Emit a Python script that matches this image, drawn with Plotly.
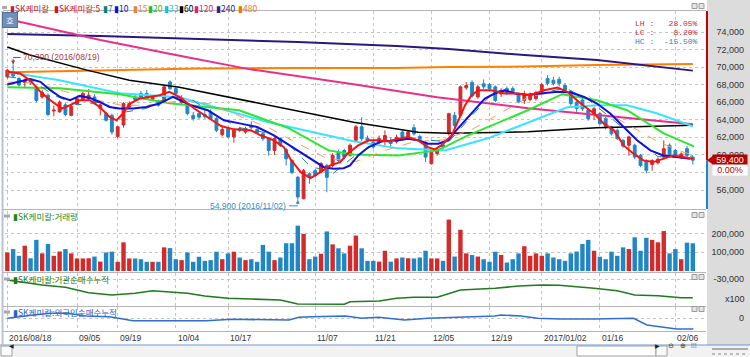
import plotly.graph_objects as go

W, H = 750, 357

# ---------------- data ----------------
opens = [68900, 69500, 68700, 68250, 68500, 67750, 66600, 66800, 65000, 64900,
         65700, 64500, 65800, 66300, 66400, 66600, 65300, 64700, 64500, 62100,
         63400, 65450, 66600, 67000, 67000, 66300, 66100, 66050, 68300, 67550,
         66000, 65650, 64500, 64700, 64600, 64900, 64150, 62300, 63000, 62050,
         63000, 62600, 63300, 62900, 62400, 61850, 60500, 61850, 60600, 59350,
         57450, 55000, 57850, 58200, 58050, 58800, 58800, 60300, 60500, 59950,
         61650, 63200, 61900, 61450, 61400, 61650, 61500, 61500, 62600, 61850,
         63100, 62100, 61400, 59000, 60150, 61150, 62400, 64500, 64500, 67650,
         68250, 66600, 68100, 68000, 67750, 66950, 67550, 67550, 67000, 66200,
         66300, 66400, 67200, 68700, 68500, 68600, 67900, 67200, 66000, 66250,
         65100, 64700, 64700, 64150, 63200, 62800, 61650, 61100, 61100, 59950,
         59350, 58900, 59100, 59750, 61100, 60500, 59750, 60700, 59750]
highs = [69800, 70300, 68900, 68700, 68700, 67900, 67400, 67000, 65600, 66200,
         65900, 65700, 66600, 67200, 67500, 66900, 65900, 64900, 64700, 63300,
         66000, 66100, 67000, 67300, 67400, 66800, 66300, 67900, 68500, 67700,
         66800, 65900, 64900, 65000, 65100, 65200, 64300, 63300, 63200, 63000,
         63200, 63200, 63800, 63100, 62600, 62000, 62000, 62000, 60800, 59500,
         57600, 58400, 58000, 58400, 59200, 59000, 60200, 60600, 60700, 61300,
         63400, 64300, 62200, 61700, 62200, 62800, 62000, 62300, 62800, 62800,
         63500, 62300, 61600, 60500, 60800, 61400, 64800, 64900, 67900, 68300,
         68500, 68000, 68600, 68200, 67900, 67600, 67800, 67800, 67100, 67300,
         67100, 67300, 68200, 69100, 68900, 68900, 68200, 67400, 66400, 66500,
         65300, 65500, 64900, 64300, 63300, 63000, 61800, 62200, 61300, 60100,
         59500, 59500, 59700, 61650, 61300, 60700, 60300, 61000, 59900]
lows = [68700, 68800, 67800, 67700, 68000, 66000, 66400, 64400, 64400, 64800,
        64400, 64400, 65700, 66200, 66200, 65700, 64500, 63800, 62300, 61900,
        63100, 65300, 66100, 66400, 66300, 66100, 65500, 65900, 67400, 66800,
        65800, 64500, 63900, 64100, 64100, 64000, 62600, 62100, 61900, 61400,
        62600, 62400, 62900, 62400, 61600, 59900, 60000, 60900, 58800, 57800,
        54900, 54950, 56700, 57400, 57900, 55750, 58600, 59200, 59500, 59800,
        61500, 61600, 61400, 60700, 61200, 61100, 61000, 61300, 61800, 61700,
        62200, 61700, 59200, 58900, 59900, 60600, 62200, 63100, 64300, 67400,
        66500, 66400, 67500, 67400, 66000, 66600, 66800, 67000, 65900, 65800,
        66100, 66200, 67000, 67900, 67900, 67800, 67200, 65600, 64900, 65000,
        63900, 64000, 63400, 62900, 62200, 61700, 60800, 59900, 59500, 58600,
        57900, 58200, 58900, 59500, 59700, 59700, 59500, 59700, 58900]
closes = [69650, 69000, 67950, 68500, 68200, 66200, 67100, 64600, 65100, 66000,
          64600, 65500, 66400, 67000, 66800, 65850, 65700, 63950, 62600, 63200,
          65850, 65850, 66300, 66600, 66400, 66600, 65650, 67750, 67550, 67000,
          66500, 64700, 64150, 64300, 64350, 64150, 62800, 62900, 62050, 62800,
          62800, 63000, 63100, 62550, 61850, 60500, 61850, 61100, 59550, 58000,
          55200, 58200, 57450, 57650, 59000, 57450, 59950, 59350, 59750, 61100,
          63200, 61850, 61600, 60900, 61850, 62200, 61300, 62000, 62050, 62600,
          62400, 61850, 59750, 60300, 60500, 60900, 64700, 63350, 67750, 67900,
          66700, 67750, 67750, 67550, 66200, 67350, 67000, 67200, 66050, 66800,
          66800, 67100, 68000, 68150, 68150, 68150, 67400, 65850, 65300, 65250,
          64150, 65250, 63550, 63200, 62400, 61850, 61000, 62050, 59750, 58800,
          58250, 59350, 59500, 60700, 59950, 59950, 60100, 59950, 59400]
volumes = [99000, 117000, 81000, 135000, 68000, 166000, 94000, 144000, 81000, 104000,
           117000, 94000, 67000, 67000, 68000, 77000, 50000, 99000, 103000, 49000,
           153000, 67000, 67000, 63000, 49000, 49000, 49000, 126000, 122000, 63000,
           58000, 99000, 49000, 76000, 54000, 58000, 103000, 63000, 94000, 103000,
           72000, 58000, 63000, 49000, 139000, 103000, 58000, 72000, 148000, 148000,
           242000, 198000, 63000, 77000, 92000, 211000, 142000, 121000, 94000, 135000,
           189000, 121000, 54000, 54000, 50000, 108000, 50000, 67000, 72000, 68000,
           67000, 72000, 108000, 67000, 67000, 54000, 274000, 77000, 220000, 94000,
           85000, 77000, 63000, 49000, 103000, 86000, 45000, 63000, 94000, 132000,
           81000, 94000, 81000, 94000, 72000, 63000, 54000, 94000, 104000, 144000,
           166000, 108000, 76000, 63000, 103000, 81000, 126000, 117000, 180000, 108000,
           177000, 166000, 153000, 213000, 94000, 117000, 63000, 151000, 148000]

x_tick_idx = [0, 12, 19, 29, 38, 53, 63, 73, 83, 92, 102, 115]
x_tick_lbl = ["2016/08/18", "09/05", "09/19", "10/04", "10/17", "11/07",
              "11/21", "12/05", "12/19", "2017/01/02", "01/16", "02/06"]

ma5_x = [0, 2.2, 3.9, 5.7, 7.4, 9.4, 10.8, 12.5, 14.2, 15.9, 17.6, 18.8, 19.9, 21.1,
         22.8, 24.5, 26.2, 27.9, 29.6, 32.2, 34.5, 36.8, 39.0, 41.9, 43.6, 45.9, 47.6,
         48.7, 50.5, 52.2, 53.9, 55.6, 57.3, 58.5, 60.4, 62.2, 63.9, 65.6, 67.3, 69.0,
         70.7, 72.4, 73.6, 74.7, 76.5, 77.6, 78.8, 79.9, 81.1, 83.3, 85.6, 87.8, 90.1,
         92.4, 94.7, 96.4, 98.7, 101.0, 102.7, 104.4, 106.1, 107.8, 109.5, 111.2,
         112.9, 114.7, 116.3, 118.0]
ma5_y = [69460, 69280, 68510, 67180, 66230, 65280, 65660, 66230, 66230, 65460, 64320,
         63940, 64710, 65850, 66420, 66600, 66800, 67180, 66600, 65280, 64320, 63290,
         62910, 62800, 62230, 61660, 60890, 59560, 58030, 57350, 58030, 58800, 59180,
         60100, 61080, 61660, 61660, 61540, 61850, 62030, 61660, 60890, 60630, 61080,
         62230, 63940, 65660, 66800, 67370, 67370, 66990, 66990, 66800, 67370, 67680,
         67180, 65850, 64710, 63560, 62800, 61080, 60140, 59370, 59180, 59560, 59940,
         59750, 59560]
ma7_x = [0, 4, 8, 12, 16, 20, 24, 28, 32, 36, 40, 44, 48, 52, 56, 60, 64, 68, 72, 76,
         80, 84, 88, 92, 96, 100, 104, 108, 112, 116, 118]
ma7_y = [68900, 68600, 66800, 65700, 66000, 64850, 65300, 66700, 66200, 64400, 63100,
         62600, 61500, 58800, 57850, 60000, 61450, 61700, 61700, 61500, 64500, 67350,
         66950, 67000, 67650, 66300, 64150, 62000, 59800, 59700, 59900]
ma10_x = [0, 2.2, 3.9, 5.7, 7.4, 9.1, 10.8, 12.5, 14.2, 15.9, 17.6, 19.3, 21.6, 23.9,
          26.2, 28.5, 31.6, 34.5, 37.3, 40.2, 43.0, 45.9, 48.2, 50.5, 52.7, 54.5, 56.2,
          57.9, 59.0, 60.4, 62.2, 64.4, 67.3, 69.0, 70.7, 72.4, 74.2, 75.9, 77.0, 78.8,
          80.5, 82.2, 83.9, 85.6, 87.4, 89.5, 91.8, 94.7, 97.0, 99.3, 101.5, 103.8,
          106.1, 108.4, 110.7, 112.9, 115.2, 117.5]
ma10_y = [68020, 68320, 68630, 68320, 67370, 66600, 66230, 66720, 66490, 66030, 65460,
          65280, 65280, 65460, 65850, 66600, 65660, 65090, 63940, 63560, 63180, 62230,
          61280, 60320, 59370, 58600, 58420, 58490, 58800, 59940, 60890, 61540, 61660,
          61850, 61660, 61280, 61280, 61660, 62600, 63940, 65280, 66420, 66990, 67370,
          66990, 66850, 66990, 67180, 67110, 66600, 65850, 64710, 63180, 61660, 60510,
          59940, 59750, 59560]
ma15_x = [0, 5, 10, 15, 20, 25, 30, 35, 40, 45, 50, 55, 60, 65, 70, 75, 80, 85, 90, 95,
          100, 104, 108, 112, 116, 118]
ma15_y = [68300, 68200, 67200, 66300, 65600, 65700, 66200, 65800, 64400, 63100, 61300,
          59600, 59250, 60500, 61500, 61700, 62900, 64800, 66700, 67200, 66750, 64500,
          63000, 61500, 60400, 60000]
ma20_x = [0, 9, 19.3, 27.9, 39.9, 48.5, 55.3, 59.6, 67.3, 74.1, 79.3, 89.6, 95.5,
          101.5, 106.7, 110.1, 113.0, 118.2]
ma20_y = [67714, 67600, 66914, 65886, 65086, 63028, 60514, 60057, 59943, 60514, 62228,
          65086, 66914, 66228, 65085, 63714, 62457, 60970]
ma33_x = [0, 9, 19.3, 29.6, 45, 59.6, 67.3, 75.3, 82.7, 89.6, 96.4, 101.5, 106.7,
          111.8, 118]
ma33_y = [69428, 68514, 67028, 66571, 63714, 61543, 60743, 60514, 61886, 63714, 65428,
          65657, 65657, 64743, 63257]
ma60_x = [0, 3.9, 13.7, 21, 29.6, 43.3, 59.6, 70.7, 75.9, 89.6, 101.5, 118]
ma60_y = [72286, 71371, 69657, 68514, 67714, 65885, 63714, 62571, 62457, 62627, 63100,
          63371]
ma120_x = [0, 16, 29, 41.6, 59.6, 74, 89.6, 101.5, 118]
ma120_y = [75486, 73086, 71371, 69771, 68057, 66571, 65313, 64514, 63486]
ma240_x = [0, 16, 33, 50, 67, 76, 89, 101.5, 118]
ma240_y = [73771, 73543, 73200, 72857, 72400, 72057, 71371, 70800, 69600]
ma480_x = [0, 16, 33, 50, 67, 76, 89, 101.5, 118]
ma480_y = [69428, 69657, 69828, 69886, 69886, 70000, 70057, 70228, 70342]

inst_x = [0, 2, 6, 10, 14, 18, 22, 25, 27, 31, 34, 38, 42, 44, 47, 50, 58, 59, 64,
          67, 70, 74, 76, 78, 84, 88, 92, 95, 101, 105, 108, 112, 116, 118]
inst_y = [-30400, -31080, -32400, -33320, -35480, -36400, -35720, -34680, -35080,
          -35720, -36800, -37720, -38000, -38120, -38400, -40000, -40120, -39080,
          -38800, -37720, -37320, -37320, -35720, -34400, -33720, -32800, -32400,
          -32520, -33720, -34680, -36400, -36680, -37480, -37480]
frgn_x = [0, 2, 4.5, 7.4, 10.2, 13.6, 17.6, 19.9, 21.6, 27.3, 30.8, 34.2, 38.7, 43.8,
          48.5, 50.2, 52.4, 58.2, 61, 63.9, 68.4, 72.4, 78.1, 83.9, 85, 88.4, 91.3,
          95.2, 101, 107.8, 110.1, 112.3, 115.2, 118.1]
frgn_y = [-300, 1300, 3000, 4700, 4700, 2000, 1300, -1000, -2700, -2700, -3000, -2700,
          -1300, -1300, -2000, 700, 1300, 2000, -300, 700, -2000, -300, 700, 2000, 3000,
          2000, -300, -1000, -1000, -300, -7000, -8700, -11000, -11000]

price_ticks = [56000, 58000, 60000, 62000, 64000, 66000, 68000, 70000, 72000, 74000]
price_hidden = [58000]          # label covered by the change-percent box in the reference
vol_ticks = [0, 100000, 200000]
inst_ticks = [-30000]
frgn_ticks = [0]
high_date = "2016/08/19"
low_date = "2016/11/02"
change_pct = 0.00

# ---------------- helpers ----------------
def X(p):
    return p / W


def Y(p):
    return 1 - p / H


n = len(closes)
idx = list(range(n))
RED = "#d42a2a"
BLUE = "#1f87c6"
GRID = "#c4c4c4"
NUMFONT = "Liberation Sans"
KRFONT = "Noto Sans CJK KR"
NBSP = "\u00a0"

fig = go.Figure()

# volume
vol_colors = [RED if c >= o else BLUE for o, c in zip(opens, closes)]
fig.add_trace(go.Bar(x=idx, y=volumes, marker=dict(color=vol_colors, line=dict(width=0)),
                     width=0.76, yaxis="y2", hoverinfo="skip"))

# candles
fig.add_trace(go.Candlestick(
    x=idx, open=opens, high=highs, low=lows, close=closes,
    increasing=dict(line=dict(color=RED, width=1), fillcolor=RED),
    decreasing=dict(line=dict(color=BLUE, width=1), fillcolor=BLUE),
    whiskerwidth=0, yaxis="y", hoverinfo="skip"))

ma_specs = [
    (ma480_x, ma480_y, "#ff8000", 2, "solid"),
    (ma240_x, ma240_y, "#2e1680", 2, "solid"),
    (ma120_x, ma120_y, "#e8308a", 2, "solid"),
    (ma60_x, ma60_y, "#000000", 1.5, "solid"),
    (ma33_x, ma33_y, "#38e4ff", 2, "solid"),
    (ma20_x, ma20_y, "#2ee62e", 2, "solid"),
    (ma15_x, ma15_y, "#ff9a60", 1, "dash"),
    (ma7_x, ma7_y, "#1a8a8a", 1, "dash"),
    (ma10_x, ma10_y, "#1010e0", 2, "solid"),
    (ma5_x, ma5_y, "#ff1010", 2, "solid"),
]
for xs, ys, col, wd, dash in ma_specs:
    fig.add_trace(go.Scatter(x=xs, y=ys, mode="lines", yaxis="y",
                             line=dict(color=col, width=wd, dash=dash), hoverinfo="skip"))

fig.add_trace(go.Scatter(x=inst_x, y=inst_y, mode="lines", yaxis="y3",
                         line=dict(color="#1e7b1e", width=1.6), hoverinfo="skip"))
fig.add_trace(go.Scatter(x=frgn_x, y=frgn_y, mode="lines", yaxis="y4",
                         line=dict(color="#2f6fcf", width=1.6), hoverinfo="skip"))

# price axis scale: 74,000 at y=32px, 56,000 at y=190px
k = 18000 / 158.0
p_top = 74000 + (32 - 11) * k
p_bot = 56000 - (209 - 190) * k


def yax(top_px, bot_px, rng, ticks, hidden=()):
    return dict(domain=[Y(bot_px), Y(top_px)], range=rng, tickvals=ticks,
                ticktext=["" if v in hidden else f"{v:,}" for v in ticks], side="right",
                anchor="free", position=X(747), ticklabelposition="inside", showgrid=True,
                gridcolor=GRID, griddash="dot", gridwidth=1, zeroline=False,
                showline=False, ticks="",
                tickfont=dict(family=NUMFONT, size=9, color="#333"), fixedrange=True)


layout = dict(
    width=W, height=H, margin=dict(l=0, r=0, t=0, b=0),
    paper_bgcolor="white", plot_bgcolor="white", showlegend=False,
    font=dict(family=KRFONT, size=9, color="#333"),
    xaxis=dict(domain=[X(5), X(705)], range=[-0.4, 120.1], tickvals=x_tick_idx,
               showticklabels=False, showgrid=True, gridcolor=GRID, griddash="dot",
               gridwidth=1, zeroline=False, showline=False, ticks="", anchor="y4",
               rangeslider=dict(visible=False), fixedrange=True),
    yaxis=yax(11, 209, [p_bot, p_top], price_ticks, price_hidden),
    yaxis2=yax(211, 271, [0, 320000], vol_ticks),
    yaxis3=yax(273, 306, [-40800, -27600], inst_ticks),
    yaxis4=yax(307, 331, [-13000, 11000], frgn_ticks),
)
fig.update_layout(**layout)

shapes = []
ann = []

# right gray strip and frame pieces
shapes.append(dict(type="rect", xref="paper", yref="paper", x0=X(707), x1=1, y0=Y(345), y1=1,
                   fillcolor="#dcdcdc", line=dict(width=0), layer="below"))
shapes.append(dict(type="rect", xref="paper", yref="paper", x0=0, x1=1, y0=0, y1=Y(345),
                   fillcolor="#f2f2f2", line=dict(width=0), layer="below"))
shapes.append(dict(type="line", xref="paper", yref="paper", x0=0, x1=1, y0=Y(345), y1=Y(345),
                   line=dict(color="#6a9ad0", width=1)))
shapes.append(dict(type="line", xref="paper", yref="paper", x0=X(2.5), x1=X(2.5), y0=Y(345), y1=Y(11),
                   line=dict(color="#b8c4d2", width=2)))
for yp in [10.5, 209.5, 272.5, 306.5, 331.5]:
    shapes.append(dict(type="line", xref="paper", yref="paper", x0=X(3), x1=X(706),
                       y0=Y(yp), y1=Y(yp), line=dict(color="#b5b5b5", width=1)))

# current price marker line on the right edge
last = closes[-1]
shapes.append(dict(type="line", xref="paper", yref="y", x0=X(707), x1=X(707), y0=last, y1=p_top,
                   line=dict(color="#c00000", width=2)))
shapes.append(dict(type="line", xref="paper", yref="y", x0=X(707), x1=X(707), y0=p_bot, y1=last,
                   line=dict(color="#1f87c6", width=2)))
shapes.append(dict(type="path", xref="paper", yref="y",
                   path=f"M {X(707)},{last} L {X(713)},{last + 500} L {X(713)},{last - 500} Z",
                   fillcolor="#c00000", line=dict(width=0)))
ann.append(dict(xref="paper", yref="y", x=X(748), y=last, xanchor="right", yanchor="middle",
                text=f"{last:,}", showarrow=False, bgcolor="#b40000", borderpad=0,
                font=dict(family=NUMFONT, size=9, color="white"), width=34, height=10))
ann.append(dict(xref="paper", yref="y", x=X(748), y=last, yshift=-10, xanchor="right",
                yanchor="middle", text=f"{change_pct:.2f}%", showarrow=False, bgcolor="white",
                borderpad=0, font=dict(family=NUMFONT, size=9, color="#c00000"), width=34,
                height=10))

# panel corner icons
for yp in [6, 215, 277, 309]:
    for xp in [692, 699]:
        shapes.append(dict(type="rect", xref="paper", yref="paper", x0=X(xp), x1=X(xp + 5),
                           y0=Y(yp + 2.5), y1=Y(yp - 2.5), fillcolor="#e4e4e4",
                           line=dict(color="#9a9a9a", width=1)))

# legend row
shapes.append(dict(type="rect", xref="paper", yref="paper", x0=X(2), x1=X(7),
                   y0=Y(9), y1=Y(6), fillcolor="#a8a8a8", line=dict(width=0)))
legend_items = [(8, "SK케미칼", "#c8202a"), (52, "SK케미칼:5", "#e01010"),
                (101, "7", "#008080"), (112, "10", "#1010d0"), (131, "15", "#f08040"),
                (146, "20", "#20c020"), (162, "33", "#10c0e0"), (177, "60", "#000000"),
                (192, "120", "#e0207a"), (214, "240", "#3a1a8a"), (236, "480", "#f07800")]
for xp, lbl, col in legend_items:
    ann.append(dict(xref="paper", yref="paper", x=X(xp), y=Y(7.5), xanchor="left",
                    yanchor="middle", text="▮" + lbl, showarrow=False,
                    font=dict(family=KRFONT, size=8.5, color=col)))

# panel titles
titles = [(216, "▮SK케미칼:거래량", "#1a8a1a"), (279, "▮SK케미칼:기관순매수누적", "#1a7a1a"),
          (312, "▮SK케미칼:외국인순매수누적", "#2a62c0")]
for yp, lbl, col in titles:
    shapes.append(dict(type="rect", xref="paper", yref="paper", x0=X(4), x1=X(10),
                       y0=Y(yp + 1.5), y1=Y(yp - 1.5), fillcolor="#a8a8a8", line=dict(width=0)))
    ann.append(dict(xref="paper", yref="paper", x=X(11), y=Y(yp), xanchor="left",
                    yanchor="middle", text=lbl, showarrow=False,
                    font=dict(family=KRFONT, size=8.5, color=col)))

# "호" button
ann.append(dict(xref="paper", yref="paper", x=X(10), y=Y(19.5), xanchor="center",
                yanchor="middle", text="호", showarrow=False, bgcolor="#7090bc",
                bordercolor="#50709c", borderwidth=1, width=12, height=12,
                font=dict(family=KRFONT, size=8, color="white")))

# x100 unit
ann.append(dict(xref="paper", yref="paper", x=X(747), y=Y(299), xanchor="right",
                yanchor="middle", text="x100", showarrow=False,
                font=dict(family=NUMFONT, size=9, color="#333")))

# date labels
for i, lbl in zip(x_tick_idx, x_tick_lbl):
    ann.append(dict(xref="x", yref="paper", x=i, y=Y(338), xanchor="left",
                    yanchor="middle", text=lbl, showarrow=False,
                    font=dict(family=NUMFONT, size=8.5, color="#333")))

# high / low markers
hi_i = max(idx, key=lambda i: highs[i])
hi_v = highs[hi_i]
lo_i = min(idx, key=lambda i: lows[i])
lo_v = lows[lo_i]
hc = "#a83c3c"
shapes.append(dict(type="line", xref="x", yref="y", x0=hi_i, x1=hi_i + 1.3,
                   y0=hi_v + 800, y1=hi_v + 800, line=dict(color=hc, width=1)))
ann.append(dict(xref="x", yref="y", x=hi_i, y=hi_v, ax=hi_i, ay=hi_v + 800, axref="x",
                ayref="y", text="", showarrow=True, arrowhead=2, arrowsize=0.8,
                arrowwidth=1, arrowcolor=hc))
ann.append(dict(xref="x", yref="y", x=hi_i + 1.4, y=hi_v + 800, xanchor="left",
                yanchor="middle", text=f"{hi_v:,} ({high_date})", showarrow=False,
                font=dict(family=NUMFONT, size=8.5, color=hc)))
lc = "#3a8cc8"
shapes.append(dict(type="line", xref="x", yref="y", x0=lo_i - 1.5, x1=lo_i,
                   y0=lo_v - 700, y1=lo_v - 700, line=dict(color=lc, width=1)))
ann.append(dict(xref="x", yref="y", x=lo_i, y=lo_v, ax=lo_i, ay=lo_v - 700, axref="x",
                ayref="y", text="", showarrow=True, arrowhead=2, arrowsize=0.8,
                arrowwidth=1, arrowcolor=lc))
ann.append(dict(xref="x", yref="y", x=lo_i - 1.6, y=lo_v - 700, xanchor="right",
                yanchor="middle", text=f"{lo_v:,} ({low_date})", showarrow=False,
                font=dict(family=NUMFONT, size=8.5, color=lc)))

# LH / LC / HC
lh = (hi_v - lo_v) / lo_v * 100
lcv = (last - lo_v) / lo_v * 100
hcv = (last - hi_v) / hi_v * 100
for yp, key, val, col in [(24, "LH", lh, "#c03030"), (32.5, "LC", lcv, "#c03030"),
                          (41, "HC", hcv, "#2a86c6")]:
    txt = f"{key} :{val:>8.2f}%".replace(" ", NBSP)
    ann.append(dict(xref="paper", yref="paper", x=X(700), y=Y(yp), xanchor="right",
                    yanchor="middle", text=txt, showarrow=False,
                    font=dict(family="Liberation Mono", size=8, color=col)))

# bottom toolbar
shapes.append(dict(type="rect", xref="paper", yref="paper", x0=X(1), x1=X(12), y0=Y(356), y1=Y(346),
                   fillcolor="#fafafa", line=dict(color="#a0a0a0", width=1)))
ann.append(dict(xref="paper", yref="paper", x=X(6.5), y=Y(351), text="◀", showarrow=False,
                font=dict(family="DejaVu Sans", size=6, color="#222")))
shapes.append(dict(type="rect", xref="paper", yref="paper", x0=X(577), x1=X(656), y0=Y(356), y1=Y(346),
                   fillcolor="#ffffff", line=dict(color="#a0a0a0", width=1)))
shapes.append(dict(type="rect", xref="paper", yref="paper", x0=X(656), x1=X(667), y0=Y(356), y1=Y(346),
                   fillcolor="#fafafa", line=dict(color="#a0a0a0", width=1)))
ann.append(dict(xref="paper", yref="paper", x=X(661.5), y=Y(351), text="▶", showarrow=False,
                font=dict(family="DejaVu Sans", size=6, color="#222")))
for xp, g in [(676, "⊖"), (688, "⊕"), (699, "⦙⦙⦙")]:
    ann.append(dict(xref="paper", yref="paper", x=X(xp), y=Y(351.5), text=g, showarrow=False,
                    font=dict(family="DejaVu Sans", size=7, color="#333")))
shapes.append(dict(type="line", xref="paper", yref="paper", x0=X(712), x1=X(748), y0=Y(349), y1=Y(349),
                   line=dict(color="#666", width=1)))
shapes.append(dict(type="line", xref="paper", yref="paper", x0=X(712), x1=X(748), y0=Y(354), y1=Y(354),
                   line=dict(color="#888", width=1, dash="dot")))

fig.update_layout(shapes=shapes, annotations=ann)
fig.write_html("out.html", config={"displayModeBar": False},
               post_script="document.body.style.margin='0';document.body.style.padding='0';"
                           "document.body.style.overflow='hidden';")
